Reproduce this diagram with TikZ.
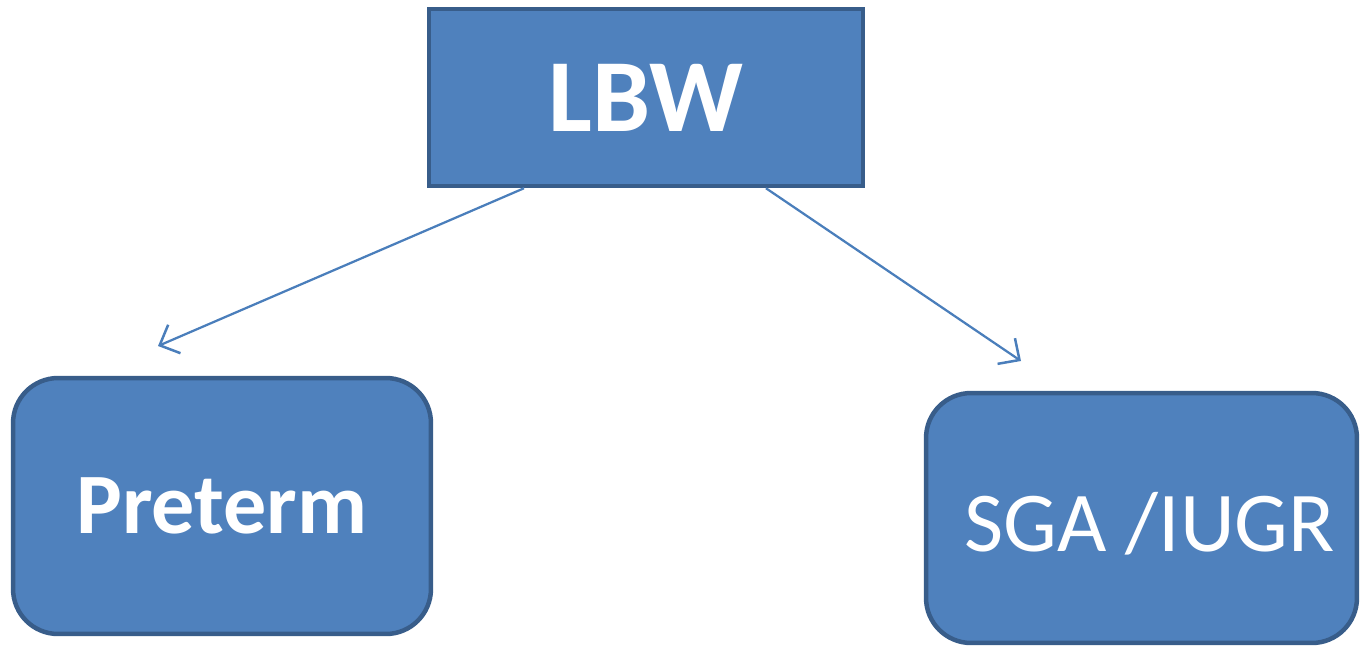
\documentclass[tikz,border=0pt]{standalone}
\usepackage{fontspec}
\setmainfont{Carlito}
\usetikzlibrary{arrows.meta}
\definecolor{boxfill}{HTML}{4F81BD}
\definecolor{boxline}{HTML}{385D8A}
\definecolor{arrowline}{HTML}{4A7EBB}
\begin{document}
\begin{tikzpicture}[x=0.02cm, y=-0.02cm,
		box/.style={draw=boxline, fill=boxfill, line width=0.09cm, text=white, inner sep=0pt},
		link/.style={draw=arrowline, line width=0.045cm, -{Straight Barb[length=0.32cm, width=0.62cm, line width=0.05cm]}}]
			%%%%% START %%%%%
			\useasboundingbox (0, 0) rectangle (1360, 647);
			
			\node[box, minimum width=8.68cm, minimum height=3.54cm] (lbw) at (646, 97.5) {\fontsize{59}{60}\selectfont\bfseries LBW};
			
			\node[box, rounded corners=0.9cm, minimum width=8.36cm, minimum height=5.12cm] (preterm) at (222, 506) {\fontsize{49}{50}\selectfont\bfseries Preterm};
			
			\node[box, rounded corners=0.9cm, minimum width=8.62cm, minimum height=5.0cm] (sga) at (1141.5, 518) {};
			\node[text=white, inner sep=0pt, anchor=base] (sgatext) at (1149.5, 551) {\fontsize{48.5}{50}\selectfont SGA /IUGR};
			
			\coordinate (pretermtip) at (158, 346);
			\coordinate (sgatip) at (1021, 361);
			
			\draw[link] ([xshift=-2.44cm]lbw.south) -- (pretermtip);
			\draw[link] ([xshift=2.4cm]lbw.south) -- (sgatip);
			%%%%% END %%%%%
		\end{tikzpicture}
\end{document}
